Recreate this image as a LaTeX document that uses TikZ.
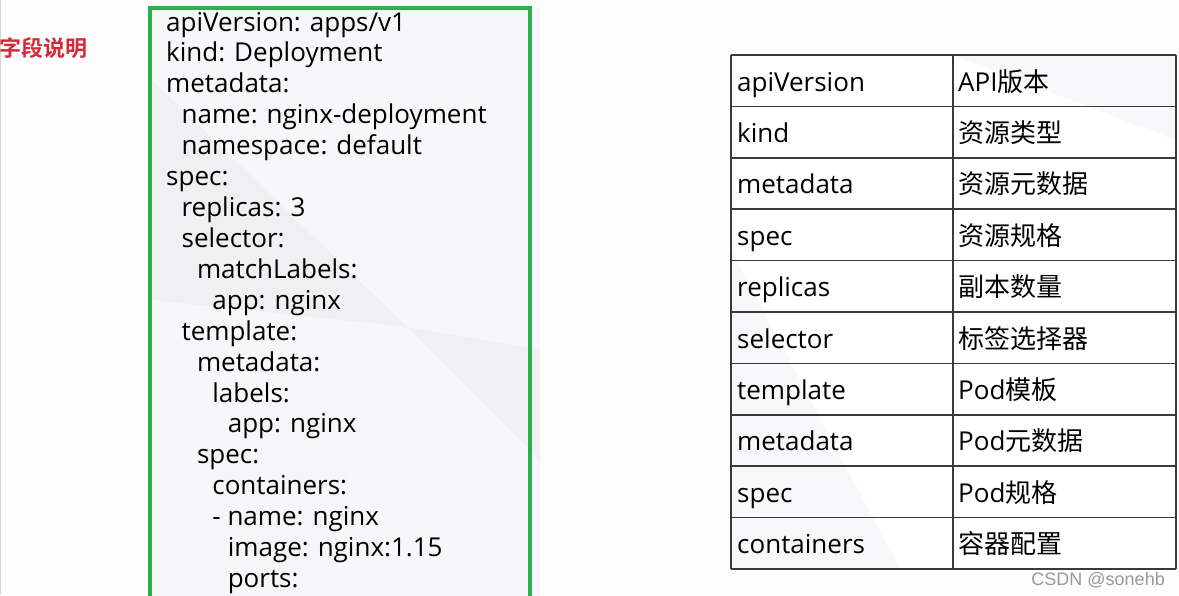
\documentclass[tikz,border=0pt]{standalone}
\usepackage{fontspec}
\setmainfont{Open Sans}
\newfontfamily\cjk{Noto Sans CJK SC}
\newfontfamily\cjkbold{Noto Sans CJK SC Bold}
\newfontfamily\wmfont{Liberation Sans}
\definecolor{boxgreen}{HTML}{2BB04E}
\definecolor{labelred}{HTML}{D42A3A}
\definecolor{gridc}{HTML}{3A3A3A}
\definecolor{bgc}{HTML}{FDFDFD}
\definecolor{boxbg}{HTML}{F7F6F9}
\definecolor{wedge}{HTML}{F0EFF2}
\begin{document}
\begin{tikzpicture}[x=1pt,y=-1pt,
  yaml/.style={anchor=base west,inner sep=0pt,font=\fontsize{26}{26}\selectfont,text=black},
  cell/.style={anchor=base west,inner sep=0pt,font=\fontsize{26}{26}\selectfont,text=black},
  grid/.style={draw=gridc,line width=1.6pt}]
\useasboundingbox (0,0) rectangle (1179,595);
\fill[bgc] (0,0) rectangle (1179,595);
\draw[black!15,line width=1pt] (0.5,0) -- (0.5,595);
% code box background with faint watermark
\fill[boxbg] (150,8) rectangle (540,600);
\fill[wedge] (152,80) -- (407,327) -- (152,300) -- cycle;
\fill[wedge] (407,327) -- (540,350) -- (540,460) -- cycle;
\fill[wedge!60] (407,327) -- (300,600) -- (152,600) -- (152,520) -- cycle;
\draw[boxgreen,line width=4pt] (150,600) -- (150,8) -- (530,8) -- (530,600);
% label
\node[anchor=west,inner sep=0pt,text=labelred,font=\cjkbold\fontsize{22}{22}\selectfont] (lbl) at (-1,48) {字段说明};
% yaml
\foreach \t/\lv [count=\i from 0] in {
 {apiVersion: apps/v1}/0,{kind: Deployment}/0,{metadata:}/0,{name: nginx-deployment}/1,
 {namespace: default}/1,{spec:}/0,{replicas: 3}/1,{selector:}/1,{matchLabels:}/2,
 {app: nginx}/3,{template:}/1,{metadata:}/2,{labels:}/3,{app: nginx}/4,{spec:}/2,
 {containers:}/3,{- name: nginx}/3,{image: nginx:1.15}/4,{ports:}/4}
 \node[yaml] (y\i) at (166+15.4*\lv,31+30.92*\i) {\t};
% table
\fill[white] (731,55) rectangle (1176,569);
\fill[wedge!50] (953,55) -- (1176,55) -- (1176,140) -- cycle;
\fill[wedge!50] (731,250) -- (900,569) -- (731,569) -- cycle;
\foreach \k/\v [count=\i from 0] in {
 apiVersion/{API\cjk 版本},kind/{\cjk 资源类型},metadata/{\cjk 资源元数据},spec/{\cjk 资源规格},
 replicas/{\cjk 副本数量},selector/{\cjk 标签选择器},template/{Pod\cjk 模板},metadata/{Pod\cjk 元数据},
 spec/{Pod\cjk 规格},containers/{\cjk 容器配置}}{
 \node[cell] (k\i) at (737,91+51.4*\i) {\k};
 \node[cell] (v\i) at (958,91+51.4*\i) {\v};
}
\foreach \i in {0,...,10} \draw[grid] (731,55+51.4*\i) -- (1176,55+51.4*\i);
\draw[grid] (731,55) -- (731,569);
\draw[grid] (953,55) -- (953,569);
\draw[grid] (1176,55) -- (1176,569);
% watermark
\node[anchor=base east,inner sep=0pt,text=black!40,font=\wmfont\fontsize{18}{18}\selectfont] (wm) at (1165,585) {CSDN @sonehb};
\end{tikzpicture}
\end{document}
